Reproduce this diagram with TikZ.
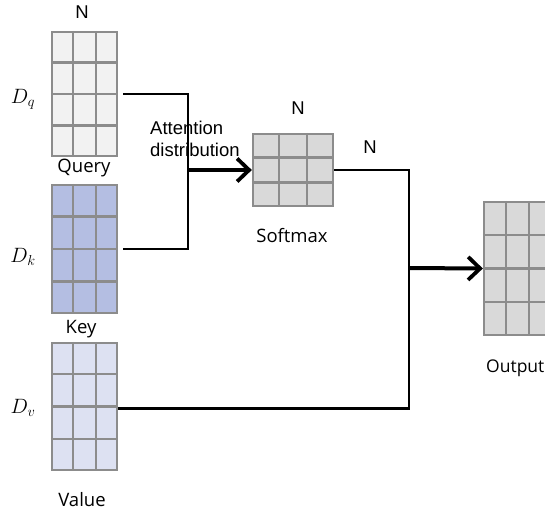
\documentclass[tikz,border=0pt]{standalone}
\usepackage{fontspec}
\setmainfont{Liberation Sans}
\newfontfamily\labelfont{Open Sans}
\usetikzlibrary{arrows.meta,calc}

\definecolor{gridedge}{HTML}{8C8C8C}
\definecolor{qfill}{HTML}{F2F2F2}
\definecolor{kfill}{HTML}{B4BEE2}
\definecolor{vfill}{HTML}{DDE1F2}
\definecolor{sfill}{HTML}{D9D9D9}

\tikzset{
  gridbox/.style={draw=gridedge, line width=2.3pt, inner sep=0pt, rectangle},
  gridline/.style={draw=gridedge, line width=2.3pt},
  link/.style={draw=black, line width=2.4pt},
  flow/.style={draw=black, line width=4pt, -{Straight Barb[length=12pt,width=23pt,line width=3.8pt]}},
  dimlabel/.style={font=\fontsize{20}{20}\selectfont},
  caption/.style={font=\labelfont\fontsize{18.5}{19}\selectfont},
  sizelabel/.style={font=\fontsize{18.5}{19}\selectfont},
}

% matrix drawn as a named box with inner cell lines
% #1 name, #2/#3 centre, #4/#5 size, #6 columns, #7 rows, #8 fill colour
\newcommand\mgrid[8]{%
  \node[gridbox, fill=#8, minimum width=#4pt, minimum height=#5pt] (#1) at (#2,#3) {};
  \pgfmathtruncatemacro\gcols{#6-1}%
  \pgfmathtruncatemacro\grows{#7-1}%
  \foreach \i in {1,...,\gcols}
    \draw[gridline] ($(#1.north west)!\i/#6!(#1.north east)$) -- ($(#1.south west)!\i/#6!(#1.south east)$);
  \foreach \j in {1,...,\grows}
    \draw[gridline] ($(#1.north west)!\j/#7!(#1.south west)$) -- ($(#1.north east)!\j/#7!(#1.south east)$);
}

\begin{document}
\begin{tikzpicture}[x=1pt,y=-1pt]
\useasboundingbox (0,0) rectangle (545,515);
\clip (0,0) rectangle (545,515);

% input matrices
\mgrid{q}{84.5}{94}{65}{124}{3}{4}{qfill}
\mgrid{k}{84.5}{249}{65}{128}{3}{4}{kfill}
\mgrid{v}{84.5}{406.5}{65}{127}{3}{4}{vfill}
% softmax and output
\mgrid{s}{293}{170}{80}{72}{3}{3}{sfill}
\mgrid{o}{517.5}{268.5}{67}{133}{3}{4}{sfill}

% junction points of the connectors
\coordinate (bus1) at (188,170);
\coordinate (bus2) at (409,268);

\draw[link] ([xshift=5pt]q.east) -| (bus1);
\draw[link] ([xshift=5pt]k.east) -| (bus1);
\draw[flow] (bus1) -- (s.west);

\draw[link] (s.east) -| (bus2);
\draw[link] ([yshift=-2pt]v.east) -| (bus2);
\draw[flow] (bus2) -- (o.west);

% labels
\node[sizelabel] (nq) at (82,12) {N};
\node[sizelabel] (ns) at (298,108) {N};
\node[sizelabel] (nr) at (370,147) {N};

\node[dimlabel] (dq) at (23,99) {$D_q$};
\node[dimlabel] (dk) at (23,257) {$D_k$};
\node[dimlabel] (dv) at (23,408) {$D_v$};

\node[caption] (lq) at (84,168) {Query};
\node[caption] (lk) at (81,329) {Key};
\node[caption] (lv) at (82,500) {Value};
\node[caption] (ls) at (292,236) {Softmax};
\node[caption, anchor=west, inner sep=0pt, font=\labelfont\fontsize{17.5}{18}\selectfont] (lo) at (486,368) {Output};

\node[sizelabel, anchor=north west, inner sep=0pt, align=left,
      font=\fontsize{18.5}{22}\selectfont] (att) at (150,121) {Attention\\distribution};
\end{tikzpicture}
\end{document}
